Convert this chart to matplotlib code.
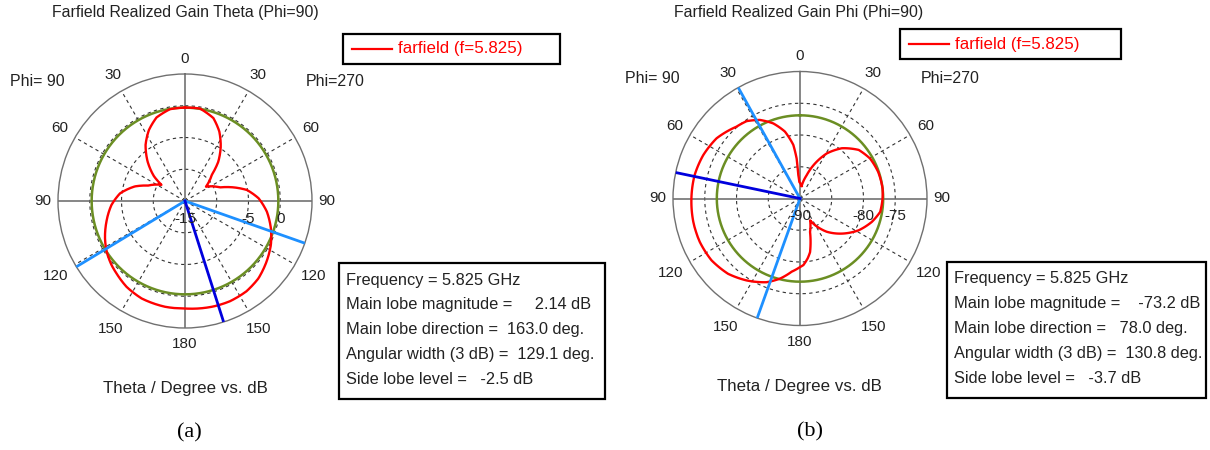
import numpy as np
import matplotlib
matplotlib.use("Agg")
import matplotlib.pyplot as plt
from matplotlib.patches import Rectangle
from matplotlib.lines import Line2D

#-------------------------------------------------------------------------------------
# (a) Farfield realized gain Theta, angle clockwise from top (negative = Phi=90 side)
theta_a = [0, 9.2, 18.9, 26.3, 33.3, 40.3, 45.7, 55.7, 68.7, 74.2, 79.9, 87.9, 97.4,
           107.7, 117.2, 126.6, 136.5, 145.8, 155.9, 165.0, 180,
           -169.3, -156.0, -145.7, -136.6, -131.1, -122.9, -115.0, -104.8, -93.1,
           -83.3, -73.7, -67.3, -55.6, -51.6, -43.5, -35.1, -26.9, -18.8, -9.3]
gain_a = [-0.29, -0.25, -1.2, -2.8, -4.75, -6.9, -9.1, -11.0, -9.1, -7.1, -5.1, -3.4, -2.0,
          -0.8, 0.2, 1.0, 1.8, 2.2, 2.3, 2.2, 1.93,
          1.95, 1.8, 1.35, 0.7, 0.35, -0.3, -1.1, -2.2, -3.4,
          -4.7, -6.8, -8.7, -10.5, -8.8, -6.45, -4.2, -2.45, -1.1, -0.35]
green_a = -0.3
beam_a = [109.4, -121.2]
main_a = 162.3

# (b) Farfield realized gain Phi
theta_b = [7.5, 15.9, 23.2, 30.7, 39.8, 50.4, 60.3, 71.2, 83.1, 90, 99.5, 108.0, 118.5,
           130.0, 141.3, 150.6, 155.2, 163.3, 169.4, 172.7, 177.1, 180,
           -173.5, -166.0, -158.2, -146.9, -136.3, -124.9, -113.4, -102.3, -90,
           -77.5, -65.9, -54.2, -41.5, -34.6, -27.1, -19.6, -12.7, -7.1, -4.8, -4.1, -2.3]
gain_b = [-88.0, -86.2, -84.0, -81.75, -79.7, -78.0, -77.3, -77.0, -76.9, -77.0, -77.2, -78.1, -79.5,
          -81.4, -83.3, -85.2, -86.2, -84.5, -81.4, -80.5, -79.5, -79.2,
          -78.4, -77.0, -75.8, -74.6, -73.6, -73.0, -72.8, -72.8, -72.9,
          -73.0, -73.3, -73.8, -74.9, -75.2, -76.1, -77.45, -79.2, -81.5, -83.7, -86.3, -87.4]
green_b = -76.9
beam_b = [-29.1, -160.3]
main_b = -78.2

info_a = ["Frequency = 5.825 GHz", "Main lobe magnitude =     2.14 dB",
          "Main lobe direction =  163.0 deg.", "Angular width (3 dB) =  129.1 deg.",
          "Side lobe level =   -2.5 dB"]
info_b = ["Frequency = 5.825 GHz", "Main lobe magnitude =    -73.2 dB",
          "Main lobe direction =   78.0 deg.", "Angular width (3 dB) =  130.8 deg.",
          "Side lobe level =   -3.7 dB"]

#-------------------------------------------------------------------------------------
W, H = 1210, 450
R = 127.0
FONT = "Liberation Sans"
fig = plt.figure(figsize=(W / 100, H / 100), dpi=100)

def px(x, y):
    return x / W, 1 - y / H

def label(x, y, s, size=10.5, color="#222222", **kw):
    fig.text(*px(x, y), s, fontsize=size, color=color, family=FONT,
             ha=kw.pop("ha", "center"), va=kw.pop("va", "center"), **kw)

def panel(cx, cy, theta, gain, rmin, rmax, green, beams, main, rticks):
    ax = fig.add_axes([(cx - R) / W, 1 - (cy + R) / H, 2 * R / W, 2 * R / H], projection="polar")
    ax.set_theta_zero_location("N")
    ax.set_theta_direction(-1)
    ax.set_ylim(rmin, rmax)
    ax.grid(False)
    ax.set_xticks([])
    ax.set_yticks([])
    ax.spines["polar"].set_color("#707070")
    ax.spines["polar"].set_linewidth(1.0)
    full = np.linspace(0, 2 * np.pi, 721)
    step = (rmax - rmin) / 4
    for k in range(1, 4):
        ax.plot(full, np.full_like(full, rmin + k * step), color="#333333",
                lw=0.8, dashes=(3, 3))
    for a in [30, 60, 120, 150, 210, 240, 300, 330]:
        ax.plot([np.radians(a)] * 2, [rmin, rmax], color="#333333", lw=0.8, dashes=(3, 3))
    for a in [0, 90, 180, 270]:
        ax.plot([np.radians(a)] * 2, [rmin, rmax], color="#666666", lw=1.1)
    ax.plot(full, np.full_like(full, green), color="#6b8e23", lw=1.8, zorder=3)
    t = np.unwrap(np.radians(theta + [theta[0]]))
    ln, = ax.plot(t, gain + [gain[0]], color="#ff0000", lw=1.7, zorder=4)
    ln.get_path()._interpolation_steps = 30   # draw segments as smooth polar arcs
    for b in beams:
        ax.plot([np.radians(b)] * 2, [rmin, rmax], color="#1e90ff", lw=2.0, zorder=5)
    ax.plot([np.radians(main)] * 2, [rmin, rmax], color="#0000dd", lw=2.0, zorder=6)
    # angle labels
    rpos = {0: 142, 30: 145, 60: 145, 90: 142, 120: 149, 150: 148, 180: 143}
    for a, r in rpos.items():
        sides = [1] if a in (0, 180) else [1, -1]
        for s in sides:
            x = cx + s * r * np.sin(np.radians(a))
            y = cy - r * np.cos(np.radians(a))
            label(x, y, str(a), size=11)
    for v in rticks:
        label(cx + (v - rmin) / (rmax - rmin) * R, cy + 18, str(v), size=11)
    label(cx - 148, cy - 120, "Phi= 90", size=11.5)
    label(cx + 150, cy - 120, "Phi=270", size=11.5)

panel(185, 201, theta_a, gain_a, -15, 5, green_a, beam_a, main_a, [-15, -5, 0])
panel(800, 198.5, theta_b, gain_b, -90, -70, green_b, beam_b, main_b, [-90, -80, -75])

label(185, 13, "Farfield Realized Gain Theta (Phi=90)", size=11.4)
label(799, 12, "Farfield Realized Gain Phi (Phi=90)", size=11.4)
label(185, 388, "Theta / Degree vs. dB", size=12.2)
label(799, 386, "Theta / Degree vs. dB", size=12.2)
fig.text(*px(189, 433), "(a)", fontsize=16, family="Liberation Serif", ha="center", va="center")
fig.text(*px(810, 432), "(b)", fontsize=16, family="Liberation Serif", ha="center", va="center")

# legend boxes
for (x0, y0, x1, y1) in [(343, 34, 560, 64), (900, 29, 1121, 59)]:
    fig.patches.append(Rectangle(px(x0, y1), (x1 - x0) / W, (y1 - y0) / H, fill=False,
                                 edgecolor="black", lw=1.6, transform=fig.transFigure))
    ym = (y0 + y1) / 2
    fig.lines.append(Line2D([(x0 + 9) / W, (x0 + 49) / W], [1 - ym / H] * 2, color="red",
                            lw=1.6, transform=fig.transFigure))
    label(x0 + 55, ym, "farfield (f=5.825)", size=12.2, color="red", ha="left")

# info boxes
for (x0, y0, x1, y1), lines in [((339, 263, 605, 399), info_a), ((947, 262, 1206, 398), info_b)]:
    fig.patches.append(Rectangle(px(x0, y1), (x1 - x0) / W, (y1 - y0) / H, fill=False,
                                 edgecolor="black", lw=1.6, transform=fig.transFigure))
    for i, s in enumerate(lines):
        label(x0 + 7, y0 + 17 + 24.8 * i, s, size=11.8, ha="left")

fig.savefig("out.png", dpi=100)
